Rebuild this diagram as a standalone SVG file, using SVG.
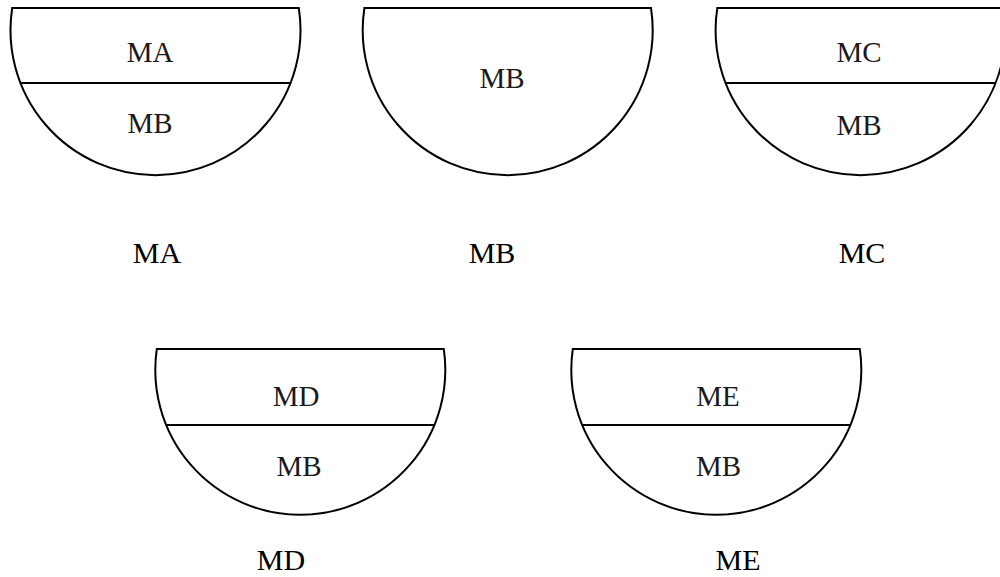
<svg xmlns="http://www.w3.org/2000/svg" width="1000" height="577" viewBox="0 0 1000 577">
<style>
.bowl{fill:#fff;stroke:#000;stroke-width:2}
.div{stroke:#000;stroke-width:2}
.in{font-family:"Liberation Serif",serif;font-size:29px;fill:#1a1a1a;text-anchor:middle}
.lbl{font-family:"Liberation Serif",serif;font-size:30px;fill:#000;text-anchor:middle}
</style>
<rect width="1000" height="577" fill="#fff"/>
<g id="bowl-MA">
<path class="bowl" d="M12.2,8 H298.8 A145,145 0 1 1 12.2,8 Z"/>
<line class="div" x1="20.5" y1="83" x2="290.5" y2="83"/>
<text class="in" x="150" y="62">MA</text>
<text class="in" x="150" y="133">MB</text>
<text class="lbl" x="157" y="263">MA</text>
</g>
<g id="bowl-MB">
<path class="bowl" d="M364.4,8 H651 A145,145 0 1 1 364.4,8 Z"/>
<text class="in" x="502" y="88">MB</text>
<text class="lbl" x="492" y="263">MB</text>
</g>
<g id="bowl-MC">
<path class="bowl" d="M717.3,8 H1003.9 A145,145 0 1 1 717.3,8 Z"/>
<line class="div" x1="725.6" y1="83" x2="995.6" y2="83"/>
<text class="in" x="859" y="62">MC</text>
<text class="in" x="859" y="135">MB</text>
<text class="lbl" x="862" y="263">MC</text>
</g>
<g id="bowl-MD">
<path class="bowl" d="M156.8,349 H443.8 A145,145 0 1 1 156.8,349 Z"/>
<line class="div" x1="166.1" y1="425" x2="434.5" y2="425"/>
<text class="in" x="296" y="406">MD</text>
<text class="in" x="299" y="476">MB</text>
<text class="lbl" x="281" y="570">MD</text>
</g>
<g id="bowl-ME">
<path class="bowl" d="M572.8,349 H859.8 A145,145 0 1 1 572.8,349 Z"/>
<line class="div" x1="582.1" y1="425" x2="850.5" y2="425"/>
<text class="in" x="718" y="406">ME</text>
<text class="in" x="718.5" y="476">MB</text>
<text class="lbl" x="738" y="570">ME</text>
</g>
<g id="connectors"></g>
</svg>
